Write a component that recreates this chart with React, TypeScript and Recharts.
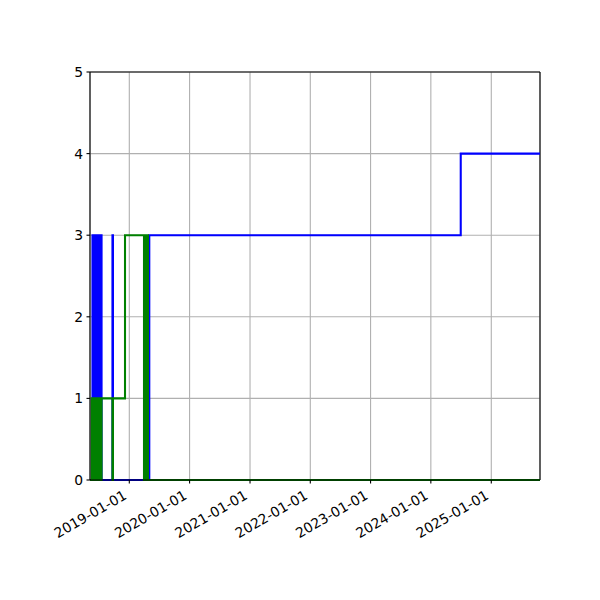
import React from 'react';
import { LineChart, Line, XAxis, YAxis, CartesianGrid, ReferenceLine } from 'recharts';

const dates = [
  '2018-05-08', '2018-05-18', '2018-05-23', '2018-05-28',
  '2018-05-30', '2018-06-01', '2018-06-03', '2018-06-05', '2018-06-07', '2018-06-09',
  '2018-06-11', '2018-06-13', '2018-06-15', '2018-06-17', '2018-06-19', '2018-06-21',
  '2018-06-23', '2018-06-25', '2018-06-27', '2018-06-29', '2018-07-01', '2018-07-03',
  '2018-07-05', '2018-07-07', '2018-07-09', '2018-07-11', '2018-07-13', '2018-07-15',
  '2018-07-17',
  '2018-09-21', '2018-09-24',
  '2018-12-06',
  '2019-03-31', '2019-04-02', '2019-04-04', '2019-04-06', '2019-04-08', '2019-04-10',
  '2019-04-12', '2019-04-14', '2019-04-16', '2019-04-18', '2019-04-20', '2019-04-22',
  '2019-04-24',
  '2019-05-02', '2024-06-30', '2025-10-23',
];

const blueValues = [
  0, 0, 3, 3,
  0, 3, 0, 3, 0, 3, 0, 3, 0, 3, 0, 3, 0, 3, 0, 3, 0, 3, 0, 3, 0, 3, 0, 3,
  0,
  3, 0,
  0,
  0, 0, 0, 0, 0, 0, 0, 0, 0, 0, 0, 0, 0,
  3, 4, 4,
];

const greenValues = [
  0, 1, 1, 0,
  1, 0, 1, 0, 1, 0, 1, 0, 1, 0, 1, 0, 1, 0, 1, 0, 1, 0, 1, 0, 1, 0, 1, 0,
  1,
  0, 1,
  3,
  0, 3, 0, 3, 0, 3, 0, 3, 0, 3, 0, 3, 0,
  0, 0, 0,
];

const xTickLabels = ['2019-01-01', '2020-01-01', '2021-01-01', '2022-01-01', '2023-01-01', '2024-01-01', '2025-01-01'];
const yTicks = [0, 1, 2, 3, 4, 5];
const xDomainDates = ['2018-05-08', '2025-10-23'];

const toTs = (s: string) => Date.parse(s + 'T00:00:00Z');

const data = dates.map((d, i) => ({ t: toTs(d), blue: blueValues[i], green: greenValues[i] }));
const xTicks = xTickLabels.map(toTs);
const xMin = toTs(xDomainDates[0]);
const xMax = toTs(xDomainDates[1]);

const FONT = 'DejaVu Sans, sans-serif';
const FS = 13.89;

const XTick = (props: any) => {
  const { x, y, payload } = props;
  const label = new Date(payload.value).toISOString().slice(0, 10);
  const ax = x - 1.6;
  const ay = y + 14.6;
  return (
    <text x={ax} y={ay} transform={`rotate(-30 ${ax} ${ay})`} textAnchor="end" fontSize={FS} fontFamily={FONT} fill="#000">
      {label}
    </text>
  );
};

const YTick = (props: any) => {
  const { x, y, payload } = props;
  return (
    <text x={x} y={y + 5} textAnchor="end" fontSize={FS} fontFamily={FONT} fill="#000">
      {payload.value}
    </text>
  );
};

export default function App() {
  return (
    <div style={{ position: 'absolute', left: 0, top: 0, width: 600, height: 600, background: '#fff' }}>
      <LineChart width={600} height={600} data={data} margin={{ top: 72, right: 60, bottom: 0, left: 0 }}>
        <CartesianGrid stroke="#b0b0b0" strokeWidth={1.1} />
        <XAxis
          dataKey="t"
          type="number"
          domain={[xMin, xMax]}
          ticks={xTicks}
          height={120}
          tick={<XTick />}
          tickSize={3.5}
          tickMargin={0}
          interval={0}
          stroke="#000"
          strokeWidth={1.1}
        />
        <YAxis
          type="number"
          domain={[0, 5]}
          ticks={yTicks}
          width={90}
          tick={<YTick />}
          tickSize={3.5}
          tickMargin={3.5}
          interval={0}
          stroke="#000"
          strokeWidth={1.1}
        />
        <ReferenceLine y={5} stroke="#000" strokeWidth={1.1} />
        <ReferenceLine x={xMax} stroke="#000" strokeWidth={1.1} />
        <Line type="stepAfter" dataKey="blue" stroke="#0000ff" strokeWidth={2.08} dot={false} isAnimationActive={false} />
        <Line type="stepAfter" dataKey="green" stroke="#008000" strokeWidth={2.08} dot={false} isAnimationActive={false} />
      </LineChart>
    </div>
  );
}
